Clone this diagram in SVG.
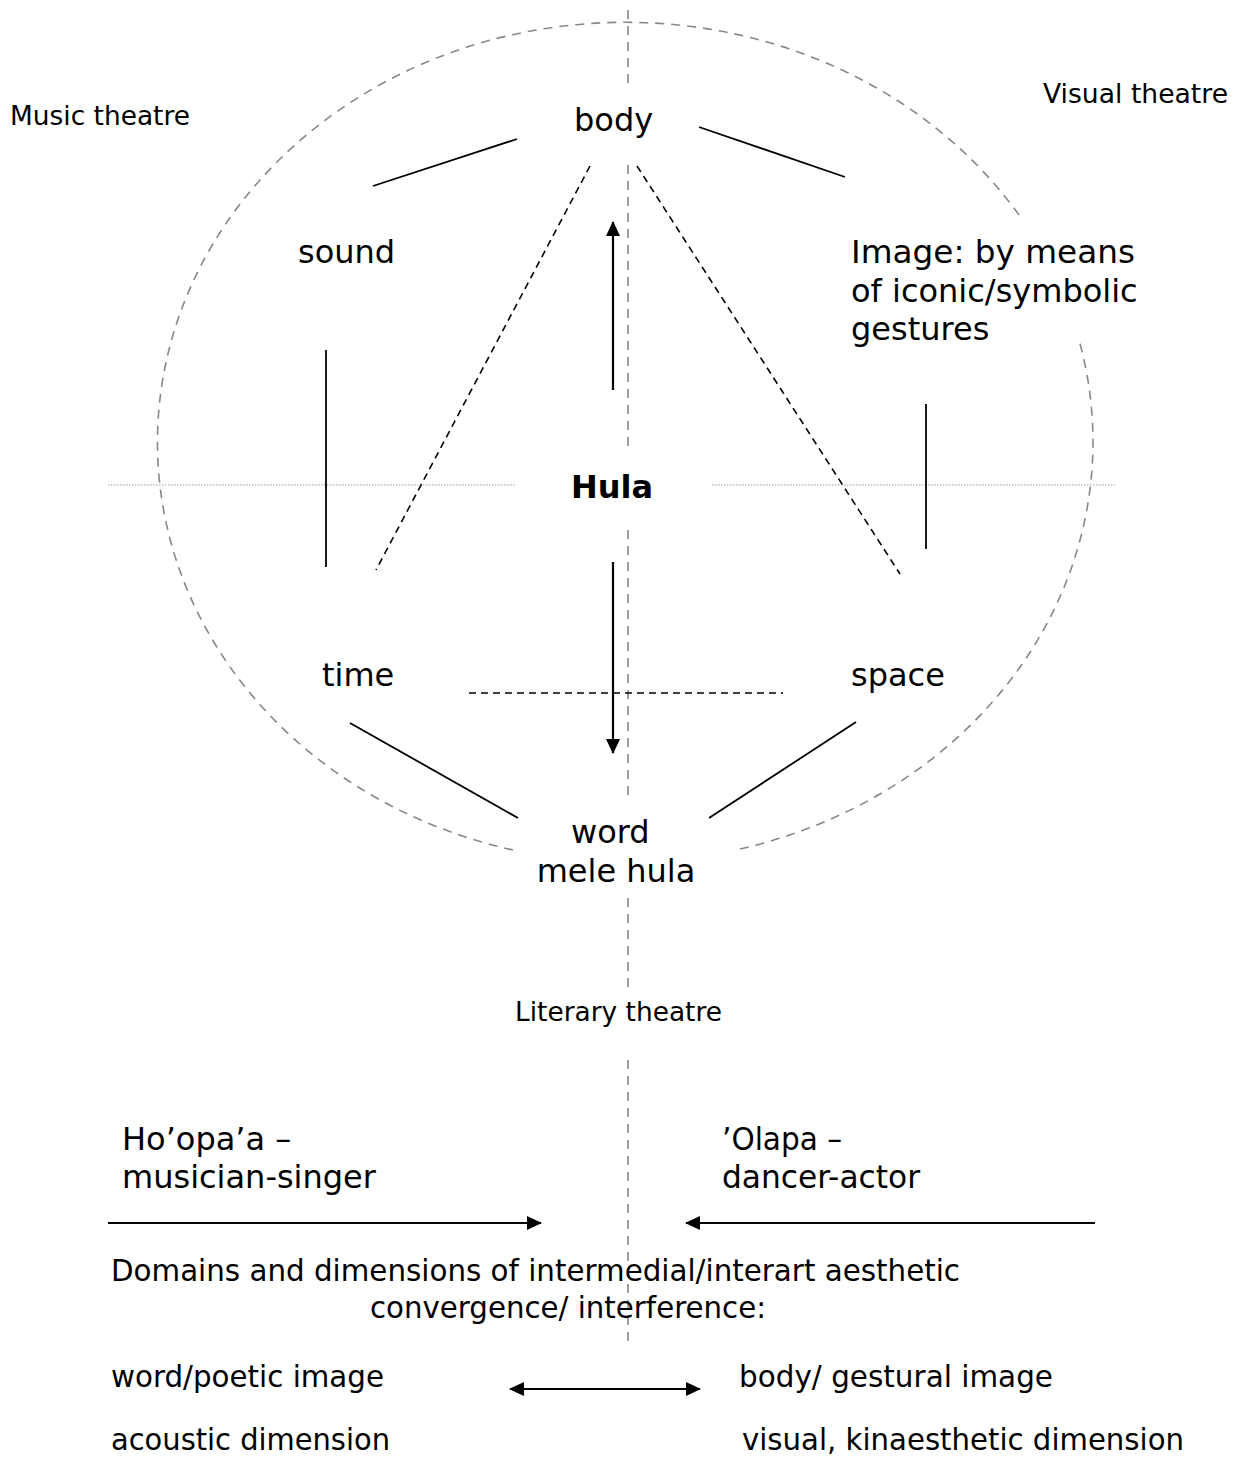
<svg xmlns="http://www.w3.org/2000/svg" width="1241" height="1466" viewBox="0 0 1241 1466">
<style>
text{font-family:"DejaVu Sans","Verdana",sans-serif;fill:#000}
.s{font-size:26px}
.b{font-size:32px}
.c{font-size:30px}
.hb{font-size:32px;font-weight:bold}
.solid{stroke:#000;stroke-width:1.8;fill:none}
.arr{stroke:#000;stroke-width:2.2;fill:none}
.dash{stroke:#000;stroke-width:1.6;stroke-dasharray:7 5;fill:none}
.gray{stroke:#888;stroke-width:1.6;stroke-dasharray:9 7;fill:none}
.dot{stroke:#999;stroke-width:1;stroke-dasharray:1.5 1.5;fill:none}
</style>
<defs>
<marker id="ah" viewBox="0 0 15 14" refX="14" refY="7" markerWidth="15" markerHeight="14" markerUnits="userSpaceOnUse" orient="auto-start-reverse">
<path d="M0,0 L15,7 L0,14 z" fill="#000"/>
</marker>
</defs>
<rect width="1241" height="1466" fill="#fff"/>
<g id="frame">
<path class="gray" d="M740,849 A468,420 0 0,0 1079,340"/>
<path class="gray" d="M1019,215 A468,420 0 1,0 513,850"/>
<path class="gray" d="M628,10 V88 M628,165 V452 M628,530 V800 M628,898 V992 M628,1060 V1348"/>
<path class="dot" d="M108,485 H515 M712,485 H1115"/>
</g>
<g id="connectors">
<line class="solid" x1="373" y1="186" x2="517" y2="139"/>
<line class="solid" x1="699" y1="127" x2="845" y2="177"/>
<line class="solid" x1="326" y1="350" x2="326" y2="567"/>
<line class="solid" x1="926" y1="404" x2="926" y2="549"/>
<line class="solid" x1="350" y1="723" x2="518" y2="818"/>
<line class="solid" x1="709" y1="818" x2="856" y2="722"/>
<line class="dash" x1="590" y1="166" x2="376" y2="570"/>
<line class="dash" x1="637" y1="166" x2="900" y2="574"/>
<line class="dash" x1="469" y1="693" x2="783" y2="693"/>
<line class="arr" x1="613" y1="390" x2="613" y2="222" marker-end="url(#ah)"/>
<line class="arr" x1="613" y1="562" x2="613" y2="753" marker-end="url(#ah)"/>
<line class="arr" x1="108" y1="1223" x2="541" y2="1223" marker-end="url(#ah)"/>
<line class="arr" x1="1095" y1="1223" x2="686" y2="1223" marker-end="url(#ah)"/>
<line class="arr" x1="510" y1="1389" x2="700" y2="1389" marker-start="url(#ah)" marker-end="url(#ah)"/>
</g>
<g id="music-theatre"><text class="s" x="10" y="125" textLength="180" lengthAdjust="spacingAndGlyphs">Music theatre</text></g>
<g id="visual-theatre"><text class="s" x="1043" y="103" textLength="185" lengthAdjust="spacingAndGlyphs">Visual theatre</text></g>
<g id="body"><text class="b" x="574" y="131">body</text></g>
<g id="sound"><text class="b" x="298" y="263">sound</text></g>
<g id="image"><text class="b" x="851" y="263" textLength="284" lengthAdjust="spacingAndGlyphs">Image: by means</text><text class="b" x="851" y="302">of iconic/symbolic</text><text class="b" x="851" y="340">gestures</text></g>
<g id="hula"><text class="hb" x="571" y="498">Hula</text></g>
<g id="time"><text class="b" x="322" y="686">time</text></g>
<g id="space"><text class="b" x="851" y="686">space</text></g>
<g id="word"><text class="b" x="571" y="843">word</text><text class="b" x="616" y="882" text-anchor="middle">mele hula</text></g>
<g id="literary-theatre"><text class="s" x="515" y="1021" textLength="207" lengthAdjust="spacingAndGlyphs">Literary theatre</text></g>
<g id="hoopaa"><text class="b" x="122" y="1150">Ho’opa’a –</text><text class="b" x="122" y="1188">musician-singer</text></g>
<g id="olapa"><text class="b" x="722" y="1150" textLength="120" lengthAdjust="spacingAndGlyphs">’Olapa –</text><text class="b" x="722" y="1188" textLength="198" lengthAdjust="spacingAndGlyphs">dancer-actor</text></g>
<g id="domains"><text class="c" x="111" y="1281" textLength="849" lengthAdjust="spacingAndGlyphs">Domains and dimensions of intermedial/interart aesthetic</text><text class="c" x="370" y="1318" textLength="396" lengthAdjust="spacingAndGlyphs">convergence/ interference:</text></g>
<g id="word-poetic"><text class="c" x="111" y="1387" textLength="273" lengthAdjust="spacingAndGlyphs">word/poetic image</text></g>
<g id="body-gestural"><text class="c" x="739" y="1387" textLength="314" lengthAdjust="spacingAndGlyphs">body/ gestural image</text></g>
<g id="acoustic"><text class="c" x="111" y="1450" textLength="279" lengthAdjust="spacingAndGlyphs">acoustic dimension</text></g>
<g id="visual-kin"><text class="c" x="742" y="1450" textLength="442" lengthAdjust="spacingAndGlyphs">visual, kinaesthetic dimension</text></g>
</svg>
